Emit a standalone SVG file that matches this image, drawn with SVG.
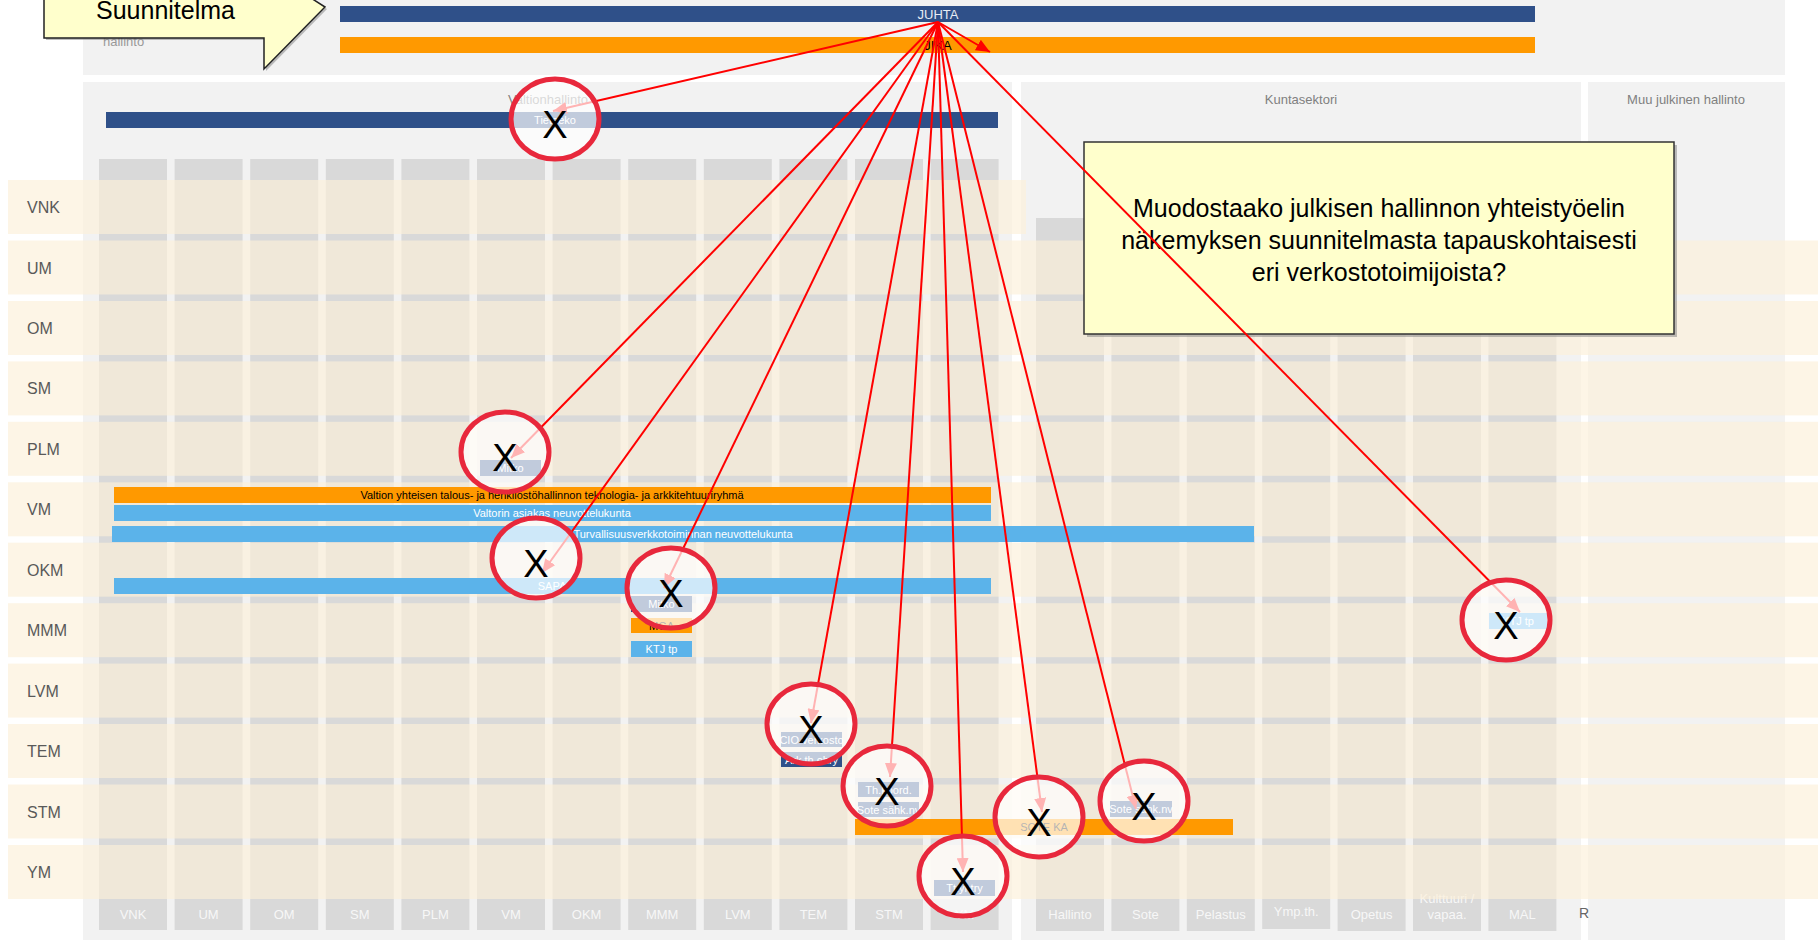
<svg xmlns="http://www.w3.org/2000/svg" width="1818" height="940" viewBox="0 0 1818 940">
<defs>
<style>
text{font-family:"Liberation Sans",Arial,sans-serif}
.panel{fill:#f2f2f2}
.col{fill:#d9d9d9}
.row{fill:#fcf0d9;fill-opacity:0.66}
.rl{font-size:16px;fill:#595959}
.cl{font-size:13px;fill:#f7f7f7;text-anchor:middle}
.hd{font-size:13px;fill:#808080;text-anchor:middle}
.navy{fill:#2f5089}
.org{fill:#ff9900}
.sky{fill:#5bb3ea}
.wt{font-size:11px;fill:#ffffff;text-anchor:middle}
.bt{font-size:11px;fill:#000000;text-anchor:middle}
.ring{fill:#ffffff;fill-opacity:0.7;stroke:#e8283c;stroke-width:5}
.x{font-size:38px;fill:#000000;text-anchor:middle}
.ln{stroke:#ff0000;stroke-width:2;fill:none;marker-end:url(#ah)}
</style>
<marker id="ah" viewBox="0 0 14 12" refX="14" refY="6" markerWidth="14" markerHeight="12" markerUnits="userSpaceOnUse" orient="auto"><path d="M0,0 L14,6 L0,12 z" fill="#ff0000"/></marker>
</defs>
<rect x="0" y="0" width="1818" height="940" fill="#ffffff"/>

<g id="panels">
<rect class="panel" x="83" y="0" width="1702" height="75"/>
<rect class="panel" x="83" y="82" width="929" height="858"/>
<rect class="panel" x="1021" y="82" width="560" height="858"/>
<rect class="panel" x="1588" y="82" width="197" height="858"/>
<text x="103" y="46" font-size="13" fill="#999999">hallinto</text>
<text class="hd" x="548" y="104">Valtionhallinto</text>
<text class="hd" x="1301" y="104">Kuntasektori</text>
<text class="hd" x="1686" y="104">Muu julkinen hallinto</text>
</g>

<g id="valtion-columns">
<rect class="col" x="99" y="159" width="68" height="771"/>
<rect class="col" x="174.6" y="159" width="68" height="771"/>
<rect class="col" x="250.2" y="159" width="68" height="771"/>
<rect class="col" x="325.8" y="159" width="68" height="771"/>
<rect class="col" x="401.4" y="159" width="68" height="771"/>
<rect class="col" x="477" y="159" width="68" height="771"/>
<rect class="col" x="552.6" y="159" width="68" height="771"/>
<rect class="col" x="628.2" y="159" width="68" height="771"/>
<rect class="col" x="703.8" y="159" width="68" height="771"/>
<rect class="col" x="779.4" y="159" width="68" height="771"/>
<rect class="col" x="855" y="159" width="68" height="771"/>
<rect class="col" x="930.6" y="159" width="68" height="771"/>
<text class="cl" x="133" y="919">VNK</text>
<text class="cl" x="208.6" y="919">UM</text>
<text class="cl" x="284.2" y="919">OM</text>
<text class="cl" x="359.8" y="919">SM</text>
<text class="cl" x="435.4" y="919">PLM</text>
<text class="cl" x="511" y="919">VM</text>
<text class="cl" x="586.6" y="919">OKM</text>
<text class="cl" x="662.2" y="919">MMM</text>
<text class="cl" x="737.8" y="919">LVM</text>
<text class="cl" x="813.4" y="919">TEM</text>
<text class="cl" x="889" y="919">STM</text>
<text class="cl" x="964.6" y="919">YM</text>
</g>

<g id="kunta-columns">
<rect class="col" x="1036" y="218" width="68" height="713"/>
<rect class="col" x="1111.4" y="218" width="68" height="713"/>
<rect class="col" x="1186.8" y="218" width="68" height="713"/>
<rect class="col" x="1262.2" y="218" width="68" height="711"/>
<rect class="col" x="1337.6" y="218" width="68" height="713"/>
<rect class="col" x="1413" y="218" width="68" height="713"/>
<rect class="col" x="1488.4" y="218" width="68" height="713"/>
<text class="cl" x="1070" y="919">Hallinto</text>
<text class="cl" x="1145.4" y="919">Sote</text>
<text class="cl" x="1220.8" y="919">Pelastus</text>
<text class="cl" x="1296.2" y="916">Ymp.th.</text>
<text class="cl" x="1371.6" y="919">Opetus</text>
<text class="cl" x="1447" y="903">Kulttuuri /</text>
<text class="cl" x="1447" y="919">vapaa.</text>
<text class="cl" x="1522.4" y="919">MAL</text>
<text x="1579" y="918" font-size="14" fill="#666666">R</text>
</g>

<g id="rows">
<rect class="row" x="8" y="180" width="1018" height="54"/>
<rect class="row" x="8" y="240.5" width="1810" height="54"/>
<rect class="row" x="8" y="301" width="1810" height="54"/>
<rect class="row" x="8" y="361.4" width="1810" height="54"/>
<rect class="row" x="8" y="421.8" width="1810" height="54"/>
<rect class="row" x="8" y="482.3" width="1810" height="54"/>
<rect class="row" x="8" y="542.7" width="1810" height="54"/>
<rect class="row" x="8" y="603.2" width="1810" height="54"/>
<rect class="row" x="8" y="663.6" width="1810" height="54"/>
<rect class="row" x="8" y="724" width="1810" height="54"/>
<rect class="row" x="8" y="784.5" width="1810" height="54"/>
<rect class="row" x="8" y="845" width="1810" height="54"/>
<text class="rl" x="27" y="213">VNK</text>
<text class="rl" x="27" y="273.5">UM</text>
<text class="rl" x="27" y="334">OM</text>
<text class="rl" x="27" y="394.4">SM</text>
<text class="rl" x="27" y="454.8">PLM</text>
<text class="rl" x="27" y="515.3">VM</text>
<text class="rl" x="27" y="575.7">OKM</text>
<text class="rl" x="27" y="636.2">MMM</text>
<text class="rl" x="27" y="696.6">LVM</text>
<text class="rl" x="27" y="757">TEM</text>
<text class="rl" x="27" y="817.5">STM</text>
<text class="rl" x="27" y="878">YM</text>
</g>

<g id="juhta"><rect class="navy" x="340" y="6" width="1195" height="16"/><text x="938" y="19" font-size="13" fill="#e8ecf4" text-anchor="middle">JUHTA</text></g>
<g id="jika"><rect class="org" x="340" y="37" width="1195" height="16"/><text x="938" y="50" font-size="13" fill="#000000" text-anchor="middle">JIKA</text></g>
<g id="tietoeko"><rect class="navy" x="106" y="112" width="892" height="16"/><text class="wt" x="555" y="124">Tietoeko</text></g>
<g id="plm-mitko"><rect class="navy" x="480" y="460" width="61" height="16"/><text class="wt" x="510.5" y="472">Mitko</text></g>
<g id="vm-ryhma"><rect class="org" x="114" y="487" width="877" height="16"/><text class="bt" x="552" y="499">Valtion yhteisen talous- ja henkilöstöhallinnon teknologia- ja arkkitehtuuriryhmä</text></g>
<g id="valtori"><rect class="sky" x="114" y="505" width="877" height="16"/><text class="wt" x="552" y="517">Valtorin asiakas neuvottelukunta</text></g>
<g id="turva"><rect class="sky" x="112" y="526" width="1142" height="16"/><text class="wt" x="683" y="538">Turvallisuusverkkotoiminnan neuvottelukunta</text></g>
<g id="sapa"><rect class="sky" x="114" y="578" width="877" height="16"/><text class="wt" x="552" y="590">SAPA</text></g>
<g id="mmm-mitko"><rect class="navy" x="631" y="596" width="61" height="16"/><text class="wt" x="661.5" y="608">Mitko</text></g>
<g id="mga"><rect class="org" x="631" y="618" width="61" height="15"/><text class="bt" x="661.5" y="630">MGA</text></g>
<g id="ktj"><rect class="sky" x="631" y="641" width="61" height="16"/><text class="wt" x="661.5" y="653">KTJ tp</text></g>
<g id="cio"><rect class="navy" x="781" y="732" width="61" height="15"/><text class="wt" x="811.5" y="744">CIO verkosto</text></g>
<g id="arkk"><rect class="navy" x="781" y="752" width="61" height="15"/><text class="wt" x="811.5" y="764">Ark.th.ohry</text></g>
<g id="thkoord"><rect class="navy" x="858" y="782" width="61" height="15"/><text class="wt" x="888.5" y="794">Th.koord.</text></g>
<g id="sote-stm"><rect class="navy" x="858" y="802" width="61" height="15"/><text class="wt" x="888.5" y="814">Sote sähk.nv</text></g>
<g id="soteka"><rect class="org" x="855" y="819" width="378" height="16"/><text class="bt" x="1044" y="831">SOTE KA</text></g>
<g id="sote-kunta"><rect class="navy" x="1110" y="801" width="62" height="16"/><text class="wt" x="1141" y="813">Sote sähk.nv</text></g>
<g id="ym-box"><rect class="navy" x="934" y="880" width="61" height="16"/><text class="wt" x="964.5" y="892">Tt.yhtry</text></g>
<g id="mal-ktj"><rect class="sky" x="1489" y="613" width="58" height="16"/><text class="wt" x="1518" y="625">KTJ tp</text></g>

<g id="question">
<rect x="1087" y="145" width="590" height="192" fill="#7f7f7f" fill-opacity="0.5"/>
<rect x="1084" y="142" width="590" height="192" fill="#ffffcc" stroke="#333333" stroke-width="1.5"/>
<text x="1379" y="217" font-size="25" text-anchor="middle" fill="#000000">Muodostaako julkisen hallinnon yhteistyöelin</text>
<text x="1379" y="249" font-size="25" text-anchor="middle" fill="#000000">näkemyksen suunnitelmasta tapauskohtaisesti</text>
<text x="1379" y="281" font-size="25" text-anchor="middle" fill="#000000">eri verkostotoimijoista?</text>
</g>

<g id="connectors">
<line class="ln" x1="938" y1="22" x2="553" y2="111"/>
<line class="ln" x1="938" y1="22" x2="990" y2="52"/>
<line class="ln" x1="938" y1="22" x2="511" y2="458"/>
<line class="ln" x1="938" y1="22" x2="542" y2="573"/>
<line class="ln" x1="938" y1="22" x2="664" y2="588"/>
<line class="ln" x1="938" y1="22" x2="811" y2="723"/>
<line class="ln" x1="938" y1="22" x2="890" y2="777"/>
<line class="ln" x1="938" y1="22" x2="963" y2="872"/>
<line class="ln" x1="938" y1="22" x2="1042" y2="812"/>
<line class="ln" x1="938" y1="22" x2="1136" y2="809"/>
<line class="ln" x1="938" y1="22" x2="1520" y2="612"/>
</g>

<g id="mark-tietoeko"><ellipse class="ring" cx="555" cy="119" rx="44" ry="40"/><text class="x" x="555" y="138">X</text></g>
<g id="mark-plm"><ellipse class="ring" cx="505" cy="452" rx="44" ry="40"/><text class="x" x="505" y="471">X</text></g>
<g id="mark-sapa"><ellipse class="ring" cx="536" cy="558" rx="44" ry="40"/><text class="x" x="536" y="577">X</text></g>
<g id="mark-mmm"><ellipse class="ring" cx="671" cy="588" rx="44" ry="40"/><text class="x" x="671" y="607">X</text></g>
<g id="mark-tem"><ellipse class="ring" cx="811" cy="724" rx="44" ry="40"/><text class="x" x="811" y="743">X</text></g>
<g id="mark-stm"><ellipse class="ring" cx="887" cy="786" rx="44" ry="40"/><text class="x" x="887" y="805">X</text></g>
<g id="mark-ym"><ellipse class="ring" cx="963" cy="876" rx="44" ry="40"/><text class="x" x="963" y="895">X</text></g>
<g id="mark-soteka"><ellipse class="ring" cx="1039" cy="817" rx="44" ry="40"/><text class="x" x="1039" y="836">X</text></g>
<g id="mark-sote"><ellipse class="ring" cx="1144" cy="801" rx="44" ry="40"/><text class="x" x="1144" y="820">X</text></g>
<g id="mark-mal"><ellipse class="ring" cx="1506" cy="620" rx="44" ry="40"/><text class="x" x="1506" y="639">X</text></g>

<g id="callout">
<polygon points="46,-50 266,-50 266,-32 327,9 266,71 266,40 46,40" fill="#7f7f7f" fill-opacity="0.5"/>
<polygon points="44,-50 264,-50 264,-32 325,7 264,69 264,38 44,38" fill="#ffffcc" stroke="#222222" stroke-width="1.5"/>
<text x="96" y="19" font-size="25" fill="#000000">Suunnitelma</text>
</g>
</svg>
